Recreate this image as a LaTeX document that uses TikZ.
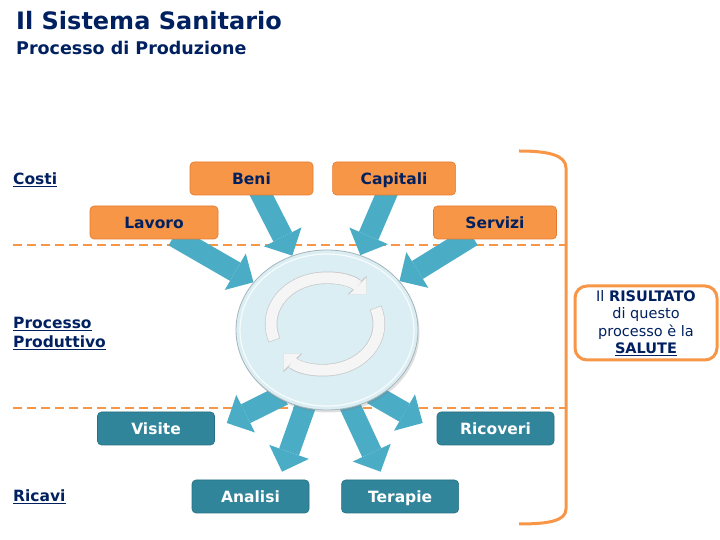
\documentclass[tikz,border=0pt]{standalone}
\usepackage{fontspec}
\setmainfont{DejaVu Sans}
\usetikzlibrary{positioning, arrows.meta, shapes.geometric, shadows}

\definecolor{navy}{RGB}{0,32,96}
\definecolor{costorange}{RGB}{247,150,70}
\definecolor{costedge}{RGB}{228,122,48}
\definecolor{revteal}{RGB}{49,133,155}
\definecolor{revedge}{RGB}{36,112,132}
\definecolor{flowblue}{RGB}{75,172,198}
\definecolor{hubfill}{RGB}{218,238,243}
\definecolor{hubedge}{RGB}{165,180,186}

% underline with a fixed rule
\newcommand{\undl}[1]{\setbox0\hbox{#1}\rlap{\rule[-2.4pt]{\wd0}{1.2pt}}\box0}

\pgfdeclarelayer{background}
\pgfsetlayers{background,main}

\begin{document}
\begin{tikzpicture}[
    x=1pt, y=1pt,
    costbox/.style={
        draw=costedge,
        fill=costorange,
        line width=0.6pt,
        rounded corners=4pt,
        minimum width=123pt,
        minimum height=33pt,
        inner sep=0pt,
        text height=12.5pt,
        text depth=1pt,
        text=navy,
        font=\bfseries\fontsize{15.5}{18}\selectfont
    },
    revbox/.style={
        draw=revedge,
        fill=revteal,
        line width=0.6pt,
        rounded corners=4pt,
        minimum width=117pt,
        minimum height=33pt,
        inner sep=0pt,
        text height=12.5pt,
        text depth=1pt,
        text=white,
        font=\bfseries\fontsize{15.5}{18}\selectfont
    },
    sectlabel/.style={
        anchor=base west,
        inner sep=0pt,
        text=navy,
        font=\bfseries\fontsize{15.5}{19}\selectfont
    },
    flow/.style={
        draw=flowblue,
        line width=21pt,
        -{Triangle[length=21pt, width=42pt, line width=0pt]},
        shorten <=-6pt
    },
    turnedge/.style={
        draw=black!22,
        line width=12.4pt,
        -{Triangle[length=13.2pt, width=26.5pt, line width=0pt]},
        shorten <=-0.6pt
    },
    turnarrow/.style={
        draw=white!96!black,
        line width=11pt,
        -{Triangle[length=12pt, width=24pt, line width=0pt]}
    },
    cut/.style={
        draw=costorange,
        line width=2pt,
        dash pattern=on 9pt off 5pt
    },
    bracketline/.style={
        draw=costorange,
        line width=3pt
    }
]
\useasboundingbox (0,0) rectangle (720,540);

% Title
\node[anchor=base west, inner sep=0pt, text=navy, font=\bfseries\fontsize{24}{28}\selectfont]
  (title) at (16,510) {Il Sistema Sanitario};
\node[anchor=base west, inner sep=0pt, text=navy, font=\bfseries\fontsize{17.5}{21}\selectfont]
  (subtitle) at (16,485) {Processo di Produzione};

% Section labels
\node[sectlabel] (costi) at (13,355) {\undl{Costi}};
\node[sectlabel, anchor=north west, align=left] (processo) at (13,223)
  {\undl{Processo}\\\undl{Produttivo}};
\node[sectlabel] (ricavi) at (13,38) {\undl{Ricavi}};

% Central process
\node[ellipse, minimum width=182pt, minimum height=160pt, inner sep=0pt,
  fill=hubfill, draw=hubedge, line width=0.8pt,
  drop shadow={opacity=0.25, shadow xshift=1.5pt, shadow yshift=-2.5pt}]
  (hub) at (327,210) {};
\draw[white, line width=1.2pt, opacity=0.8] (hub.center) ellipse[x radius=87, y radius=76];
\coordinate (spin) at ([shift={(-2,6)}]hub.center);
\draw[turnedge] (spin) ++(200:54 and 46) arc[start angle=200, end angle=40, x radius=54, y radius=46];
\draw[turnarrow] (spin) ++(200:54 and 46) arc[start angle=200, end angle=40, x radius=54, y radius=46];
\draw[turnedge] (spin) ++(20:54 and 46) arc[start angle=20, end angle=-140, x radius=54, y radius=46];
\draw[turnarrow] (spin) ++(20:54 and 46) arc[start angle=20, end angle=-140, x radius=54, y radius=46];

% Costs
\node[costbox] (beni) at (251.5,361.5) {Beni};
\node[costbox, right=19pt of beni] (capitali) {Capitali};
\node[costbox, minimum width=128pt] (lavoro) at (154,317.5) {Lavoro};
\node[costbox] (servizi) at (495,317.5) {Servizi};

% Revenues
\node[revbox] (visite) at (156,111.5) {Visite};
\node[revbox] (ricoveri) at (495.5,111.5) {Ricoveri};
\node[revbox] (analisi) at (250.5,43.5) {Analisi};
\node[revbox, right=32pt of analisi] (terapie) {Terapie};

% Result
\node[draw=costorange, line width=3pt, rounded corners=12pt, fill=white,
  minimum width=142pt, minimum height=74pt, inner sep=2pt, align=center,
  text=navy, font=\fontsize{14.5}{17.5}\selectfont]
  (result) at (646,217)
  {Il \textbf{RISULTATO}\\di questo\\processo è la\\\textbf{\undl{SALUTE}}};

\begin{pgfonlayer}{background}
% Section separators and bracket
\draw[cut] (13,295) -- (565,295);
\draw[cut] (13,132) -- (565,132);
\draw[bracketline] (519,389) .. controls (548,389) and (566,385) .. (566,372)
  -- (566,31) .. controls (566,19) and (548,16) .. (519,16);

% Inputs
\draw[flow] ([xshift=25pt]lavoro.south) -- (hub.147);
\draw[flow] ([xshift=10pt]beni.south) -- (hub.115);
\draw[flow] ([xshift=-8pt]capitali.south) -- (hub.66);
\draw[flow] ([xshift=-28pt]servizi.south) -- (hub.34);

% Outputs
\draw[flow] (hub.234) -- ([shift={(12pt,5.5pt)}]visite.east);
\draw[flow] (hub.254) -- ([shift={(31.5pt,8pt)}]analisi.north);
\draw[flow] (hub.287) -- ([shift={(-19.5pt,8pt)}]terapie.north);
\draw[flow] (hub.307) -- ([shift={(-14pt,5.5pt)}]ricoveri.west);
\end{pgfonlayer}

\end{tikzpicture}
\end{document}
